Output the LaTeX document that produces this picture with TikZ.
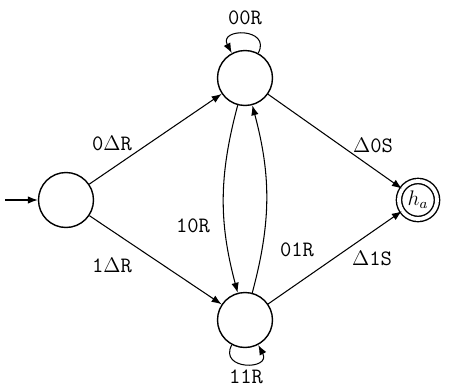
\documentclass[tikz,border=0pt]{standalone}
\usepackage{amsmath,amssymb}
\usepackage{tikz}
\usetikzlibrary{arrows.meta,positioning,calc}

\tikzset{
  state/.style={draw,circle,thick,minimum size=1.1cm,inner sep=0pt},
  accept/.style={draw,circle,thick,double,double distance=2.2pt,minimum size=0.76cm,inner sep=0pt},
  trans/.style={-{Latex[length=2mm,width=1.5mm]},semithick},
  lab/.style={font=\ttfamily\fontsize{12.5}{14}\selectfont}
}

\begin{document}
\begin{tikzpicture}[x=0.02cm,y=-0.02cm]
  \useasboundingbox (0,0) rectangle (474,389);
  % states
  \node[state] (q0) at (66,200) {};
  \node[state] (q1) at (245,78) {};
  \node[state] (q2) at (245,320) {};
  \node[accept] (ha) at (418,200) {\large$h_a$};
  \coordinate (start) at (5,200);
  % transitions
  \draw[trans] (start) -- (q0);
  \draw[trans] (q0) -- (q1);
  \draw[trans] (q0) -- (q2);
  \draw[trans] (q1) -- (ha);
  \draw[trans] (q2) -- (ha);
  \draw[trans] (q1) to[bend right=15] (q2);
  \draw[trans] (q2) to[bend right=15] (q1);
  \draw[trans] (q1) to[out=62,in=118,looseness=2.8] (q1);
  \draw[trans] (q2) to[out=-118,in=-62,looseness=2.8] (q2);
  % labels
  \node[lab] (l0) at (112,143) {0$\Delta$R};
  \node[lab] (l1) at (112,265) {1$\Delta$R};
  \node[lab] (l2) at (373,145) {$\Delta$0S};
  \node[lab] (l3) at (372,258) {$\Delta$1S};
  \node[lab] (l4) at (193,226) {10R};
  \node[lab] (l5) at (297,250) {01R};
  \node[lab] (l6) at (245,18) {00R};
  \node[lab] (l7) at (246,377) {11R};
\end{tikzpicture}
\end{document}
